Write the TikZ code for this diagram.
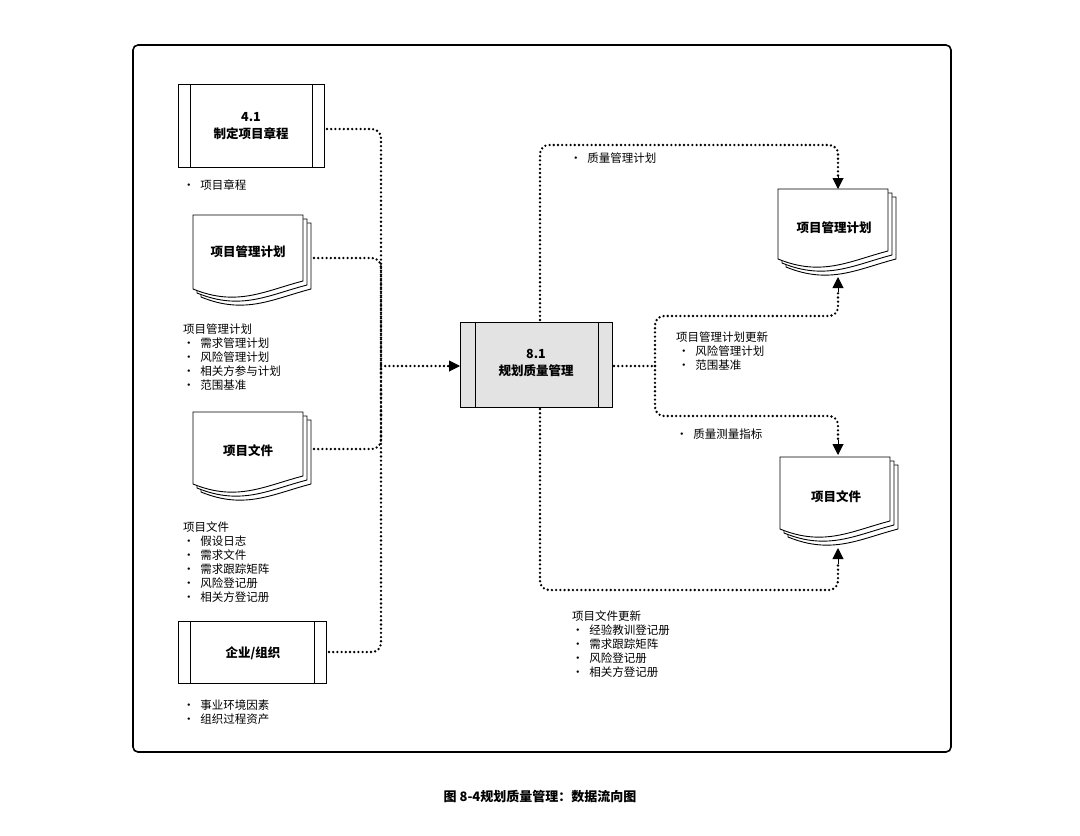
\documentclass[tikz,border=0pt]{standalone}
\usepackage{fontspec}
\setmainfont{Noto Sans CJK SC}
\usetikzlibrary{arrows.meta}
\newcommand{\docpage}[4]{% x y w h
  \foreach \o in {8,4,0}{
  \filldraw[fill=white,draw=black,line width=0.9pt]
   ({#1+\o},{#2+\o}) -- ({#1+#3+\o},{#2+\o}) -- ({#1+#3+\o},{#2+#4-16+\o})
   .. controls ({#1+#3*0.65+\o},{#2+#4-6+\o}) and ({#1+#3*0.4+\o},{#2+#4+10+\o}) .. ({#1+\o},{#2+#4-8+\o}) -- cycle;}
}
\begin{document}
\begin{tikzpicture}[x=1pt,y=-1pt,font=\fontsize{11.5}{14}\selectfont,
  dots/.style={line width=2.6pt,line cap=round,dash pattern=on 0pt off 4.2pt,rounded corners=9pt},
  arr/.style={-{Triangle[length=11pt,width=11pt]}},
  lbl/.style={anchor=west,inner sep=0pt},
  ttl/.style={font=\fontsize{12.5}{17}\selectfont\bfseries,align=center}]
\useasboundingbox (0,0) rectangle (1080,836);
\draw[line width=1.6pt,rounded corners=5pt] (133,45) rectangle (951,752);
% 4.1
\draw[line width=0.9pt] (178,84) rectangle (324,167) (190,84)--(190,167) (312,84)--(312,167);
\node[ttl] (p41) at (251,126) {4.1\\制定项目章程};
\coordinate (p41e) at (327,129);
\node[lbl] (t1) at (183,185) {•\; 项目章程};
% doc pmp
\docpage{193}{215}{110}{82}
\node[ttl] (pmp) at (248,252) {项目管理计划};
\coordinate (pmpe) at (314,258);
\node[lbl,align=left] (t2) at (183,357) {项目管理计划\\[-0.5pt]•\; 需求管理计划\\•\; 风险管理计划\\•\; 相关方参与计划\\•\; 范围基准};
% doc docs
\docpage{193}{412}{110}{80}
\node[ttl] (docs) at (248,451) {项目文件};
\coordinate (docse) at (314,449);
\node[lbl,align=left] (t3) at (183,562) {项目文件\\•\; 假设日志\\•\; 需求文件\\•\; 需求跟踪矩阵\\•\; 风险登记册\\•\; 相关方登记册};
% org
\draw[line width=0.9pt] (178,621) rectangle (326,683) (190,621)--(190,683) (314,621)--(314,683);
\node[ttl] (org) at (253,653) {企业/组织};
\coordinate (orge) at (329,652);
\node[lbl,align=left] (t4) at (183,712) {•\; 事业环境因素\\•\; 组织过程资产};
% process
\draw[line width=0.9pt,fill=black!11] (460,322) rectangle (612,407);
\draw[line width=0.9pt] (475,322)--(475,407) (598,322)--(598,407);
\node[ttl] (proc) at (536,363) {8.1\\规划质量管理};
\coordinate (procw) at (460,366);
\coordinate (proce) at (614,366);
\coordinate (procn) at (540,320);
\coordinate (procs) at (540,409);
% right docs
\docpage{778}{189}{110}{78}
\node[ttl] (rpmp) at (834,228) {项目管理计划};
\coordinate (rpmpn) at (838,189);
\coordinate (rpmps) at (838,277);
\docpage{780}{457}{110}{80}
\node[ttl] (rdocs) at (836,497) {项目文件};
\coordinate (rdocsn) at (838,455);
\coordinate (rdocss) at (838,548);
% junctions
\coordinate (jL) at (381,366);
\coordinate (jR) at (655,366);
% left connectors
\draw[dots] (p41e) -| (jL);
\draw[dots] (pmpe) -| (jL);
\draw[dots] (docse) -| (jL);
\draw[dots] (orge) -| (jL);
\draw[dots] (jL) -- (449,366);
\draw[arr,line width=1pt] (447,366) -- (procw);
% top
\draw[dots] (procn) |- (838,145) -- (838,178);
\draw[arr,line width=1pt] (838,176) -- (rpmpn);
\node[lbl] (t5) at (570,158) {•\; 质量管理计划};
% right
\draw[dots] (proce) -- (jR);
\draw[dots] (jR) |- (838,316) -- (838,290);
\draw[arr,line width=1pt] (838,292) -- (rpmps);
\draw[dots] (jR) |- (838,416) -- (838,442);
\draw[arr,line width=1pt] (838,440) -- (rdocsn);
\node[lbl,align=left] (t6) at (676,351) {项目管理计划更新\\\,•\; 风险管理计划\\\,•\; 范围基准};
\node[lbl] (t7) at (676,434) {•\; 质量测量指标};
% bottom
\draw[dots] (procs) |- (838,590) -- (838,562);
\draw[arr,line width=1pt] (838,564) -- (rdocss);
\node[lbl,align=left] (t8) at (572,644) {项目文件更新\\•\; 经验教训登记册\\•\; 需求跟踪矩阵\\•\; 风险登记册\\•\; 相关方登记册};
% caption
\node[font=\fontsize{13}{16}\selectfont\bfseries] (cap) at (540,797) {图 8-4规划质量管理：数据流向图};
\end{tikzpicture}
\end{document}
